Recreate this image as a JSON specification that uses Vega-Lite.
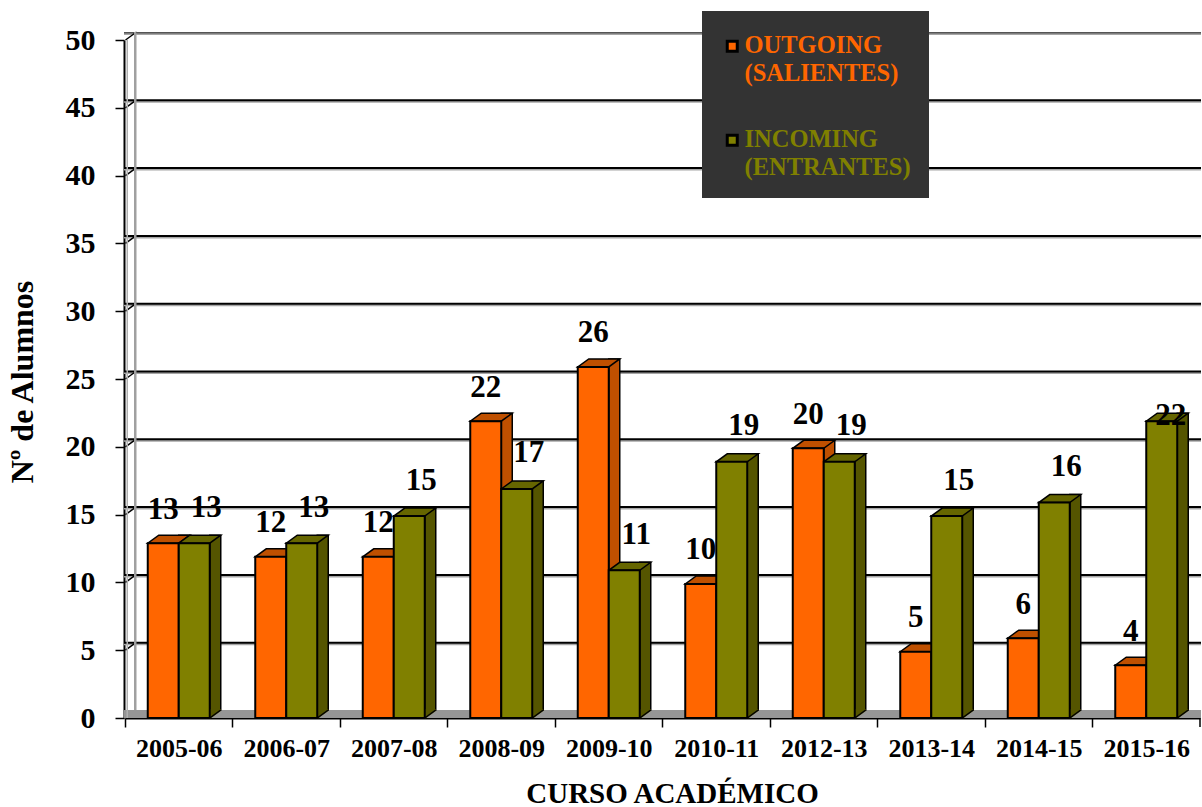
{
"$schema":"https://vega.github.io/schema/vega-lite/v6.json",
"width":1077,"height":686,
"autosize":{"type":"none"},
"padding":{"left":124,"top":32,"right":1,"bottom":89},
"background":"white",
"config":{"view":{"stroke":null},"font":"Liberation Serif"},
"datasets":{
"alumnos":[
{"curso":"2005-06","serie":"OUTGOING|(SALIENTES)","n":13},{"curso":"2005-06","serie":"INCOMING|(ENTRANTES)","n":13},
{"curso":"2006-07","serie":"OUTGOING|(SALIENTES)","n":12},{"curso":"2006-07","serie":"INCOMING|(ENTRANTES)","n":13},
{"curso":"2007-08","serie":"OUTGOING|(SALIENTES)","n":12},{"curso":"2007-08","serie":"INCOMING|(ENTRANTES)","n":15},
{"curso":"2008-09","serie":"OUTGOING|(SALIENTES)","n":22},{"curso":"2008-09","serie":"INCOMING|(ENTRANTES)","n":17},
{"curso":"2009-10","serie":"OUTGOING|(SALIENTES)","n":26},{"curso":"2009-10","serie":"INCOMING|(ENTRANTES)","n":11},
{"curso":"2010-11","serie":"OUTGOING|(SALIENTES)","n":10},{"curso":"2010-11","serie":"INCOMING|(ENTRANTES)","n":19},
{"curso":"2012-13","serie":"OUTGOING|(SALIENTES)","n":20},{"curso":"2012-13","serie":"INCOMING|(ENTRANTES)","n":19},
{"curso":"2013-14","serie":"OUTGOING|(SALIENTES)","n":5},{"curso":"2013-14","serie":"INCOMING|(ENTRANTES)","n":15},
{"curso":"2014-15","serie":"OUTGOING|(SALIENTES)","n":6},{"curso":"2014-15","serie":"INCOMING|(ENTRANTES)","n":16},
{"curso":"2015-16","serie":"OUTGOING|(SALIENTES)","n":4},{"curso":"2015-16","serie":"INCOMING|(ENTRANTES)","n":22}
],
"marcas":[{"m":5},{"m":10},{"m":15},{"m":20},{"m":25},{"m":30},{"m":35},{"m":40},{"m":45},{"m":50}]
},
"encoding":{
"y":{"type":"quantitative",
"scale":{"domain":[0,50],"range":[686,8]},
"axis":{"title":"Nº de Alumnos","titleFont":"Liberation Serif","titleFontSize":32,"titleFontWeight":"bold","titleColor":"black","titlePadding":26,"titleY":349.5,
"values":[0,5,10,15,20,25,30,35,40,45,50],"labelFont":"Liberation Serif","labelFontSize":30,"labelFontWeight":"bold","labelColor":"black","labelPadding":20,
"tickSize":9,"tickWidth":1.5,"tickColor":"black","domainColor":"black","domainWidth":2,"grid":false}}
},
"layer":[
{"data":{"values":[{"z":0}]},"mark":{"type":"rect","fill":"#969696","clip":true},
 "encoding":{"y":{"datum":0},"y2":{"datum":0.59}}},
{"data":{"name":"marcas"},"mark":{"type":"rule","color":"#a6a6a6","strokeWidth":2,"xOffset":11,"yOffset":-6,"clip":true},
 "encoding":{"y":{"field":"m","type":"quantitative"}}},
{"data":{"name":"marcas"},"transform":[{"filter":"datum.m<50"}],"mark":{"type":"rule","color":"black","strokeWidth":2,"xOffset":11,"yOffset":-7.5,"clip":true},
 "encoding":{"y":{"field":"m","type":"quantitative"}}},
{"data":{"name":"marcas"},"transform":[{"filter":"datum.m==50"}],"mark":{"type":"rule","color":"#555555","strokeWidth":2,"xOffset":11,"yOffset":-7.5,"clip":true},
 "encoding":{"y":{"field":"m","type":"quantitative"}}},
{"data":{"name":"marcas"},"mark":{"type":"point","shape":"M0,0L11,-8","size":4,"fill":null,"stroke":"black","strokeWidth":1.5,"opacity":1,"xOffset":-53.25},
 "encoding":{"x":{"datum":"2005-06","type":"nominal",
 "scale":{"domain":["2005-06","2006-07","2007-08","2008-09","2009-10","2010-11","2012-13","2013-14","2014-15","2015-16"],"range":[1,1076],"paddingInner":0.4233,"paddingOuter":0.21165},
 "axis":{"title":"CURSO ACADÉMICO","titleFont":"Liberation Serif","titleFontSize":29,"titleFontWeight":"bold","titleColor":"black","titlePadding":18,"titleX":548,
"labelFont":"Liberation Serif","labelFontSize":26,"labelFontWeight":"bold","labelColor":"black","labelAngle":0,"labelPadding":8,
"tickOffset":-53.75,"labelOffset":53.75,"tickSize":9,"tickWidth":1.5,"tickColor":"black","domainColor":"black","domainWidth":2,"grid":false}},
 "y":{"field":"m","type":"quantitative"}}},
{"data":{"values":[{"z":0}]},"mark":{"type":"point","shape":"M0,0L0,9","size":4,"fill":null,"stroke":"black","strokeWidth":1.5,"opacity":1,"xOffset":53.75},
 "encoding":{"x":{"datum":"2015-16","type":"nominal"},"y":{"datum":0}}},
{"data":{"values":[{"a":0,"b":50}]},"mark":{"type":"rule","color":"#a0a0a0","strokeWidth":2.5,"xOffset":-43.5,"yOffset":-8,"y2Offset":-8},
 "encoding":{"x":{"datum":"2005-06","type":"nominal"},"y":{"field":"a","type":"quantitative"},"y2":{"field":"b"}}},
{"data":{"values":[{"a":0,"b":50}]},"mark":{"type":"rule","color":"#b0b0b0","strokeWidth":1.5,"xOffset":-51.5},
 "encoding":{"x":{"datum":"2005-06","type":"nominal"},"y":{"field":"a","type":"quantitative"},"y2":{"field":"b"}}},
{"data":{"name":"alumnos"},"transform":[{"filter":"indexof(datum.serie,'OUT')==0"}],"mark":{"type":"bar","width":11,"fill":"#BF5000","stroke":"black","strokeWidth":1.5,"xOffset":5.5,"yOffset":-6.5,"y2Offset":-8},
 "encoding":{"x":{"field":"curso","type":"nominal"},"y":{"field":"n","type":"quantitative"},"y2":{"datum":0}}},
{"data":{"name":"alumnos"},"transform":[{"filter":"indexof(datum.serie,'INC')==0"}],"mark":{"type":"bar","width":11,"fill":"#555500","stroke":"black","strokeWidth":1.5,"xOffset":36.5,"yOffset":-6.5,"y2Offset":-8},
 "encoding":{"x":{"field":"curso","type":"nominal"},"y":{"field":"n","type":"quantitative"},"y2":{"datum":0}}},
{"data":{"name":"alumnos"},"mark":{"type":"point","shape":"M15.5,1L26.5,-7L26.5,-9L15.5,-9Z","size":4,"filled":true,"opacity":1,"strokeWidth":0},
 "encoding":{"x":{"field":"curso","type":"nominal"},"xOffset":{"field":"serie","sort":null},"y":{"datum":0},
 "fill":{"condition":{"test":"indexof(datum.serie,'OUT')==0","value":"#BF5000"},"value":"#555500"}}},
{"data":{"name":"alumnos"},"mark":{"type":"point","shape":"M15.5,0L26.5,-8","size":4,"fill":null,"stroke":"black","strokeWidth":1.5,"opacity":1},
 "encoding":{"x":{"field":"curso","type":"nominal"},"xOffset":{"field":"serie","sort":null},"y":{"datum":0}}},
{"data":{"name":"alumnos"},"mark":{"type":"point","shape":"M-15.5,0L15.5,0L26.5,-8L-4.5,-8Z","size":4,"stroke":"black","strokeWidth":1.5,"opacity":1,"yOffset":1.5},
 "encoding":{"x":{"field":"curso","type":"nominal"},"xOffset":{"field":"serie","sort":null},"y":{"field":"n","type":"quantitative"},
 "fill":{"condition":{"test":"indexof(datum.serie,'OUT')==0","value":"#BF5000"},"value":"#666600"}}},
{"data":{"name":"alumnos"},"mark":{"type":"bar","stroke":"black","strokeWidth":2,"yOffset":1.5,"y2Offset":0},
 "encoding":{"x":{"field":"curso","type":"nominal"},"xOffset":{"field":"serie","sort":null},"y":{"field":"n","type":"quantitative"},"y2":{"datum":0},
 "color":{"field":"serie","type":"nominal","sort":null,
  "scale":{"domain":["OUTGOING|(SALIENTES)","INCOMING|(ENTRANTES)"],"range":["#FF6600","#808000"]},
  "legend":{"orient":"none","legendX":578,"legendY":-21,"title":" ","titleFontSize":1,"titlePadding":4,"fillColor":"#333333","padding":18,
   "symbolType":"square","symbolSize":100,"symbolStrokeColor":"black","symbolStrokeWidth":3,"symbolOpacity":1,
   "labelFont":"Liberation Serif","labelFontSize":24.5,"labelFontWeight":"bold","labelLimit":300,"labelOffset":0,"labelBaseline":"middle","rowPadding":41,
   "labelExpr":"split(datum.label,'|')",
   "encode":{"labels":{"update":{"fill":{"scale":"color","field":"value"},"lineHeight":{"value":28}}}}}}}},
{"data":{"name":"alumnos"},"transform":[{"filter":"indexof(datum.serie,'OUT')==0"}],"mark":{"type":"text","font":"Liberation Serif","fontSize":31,"fontWeight":"bold","color":"black","dy":-32,"dx":0},
 "encoding":{"x":{"field":"curso","type":"nominal"},"xOffset":{"field":"serie","sort":null},"y":{"field":"n","type":"quantitative"},"text":{"field":"n"}}},
{"data":{"name":"alumnos"},"transform":[{"filter":"indexof(datum.serie,'INC')==0 && datum.curso!='2015-16'"}],"mark":{"type":"text","font":"Liberation Serif","fontSize":31,"fontWeight":"bold","color":"black","dy":-34,"dx":12},
 "encoding":{"x":{"field":"curso","type":"nominal"},"xOffset":{"field":"serie","sort":null},"y":{"field":"n","type":"quantitative"},"text":{"field":"n"}}},
{"data":{"name":"alumnos"},"transform":[{"filter":"indexof(datum.serie,'INC')==0 && datum.curso=='2015-16'"}],"mark":{"type":"text","font":"Liberation Serif","fontSize":31,"fontWeight":"bold","color":"black","dy":-4,"dx":9},
 "encoding":{"x":{"field":"curso","type":"nominal"},"xOffset":{"field":"serie","sort":null},"y":{"field":"n","type":"quantitative"},"text":{"field":"n"}}}
]
}
